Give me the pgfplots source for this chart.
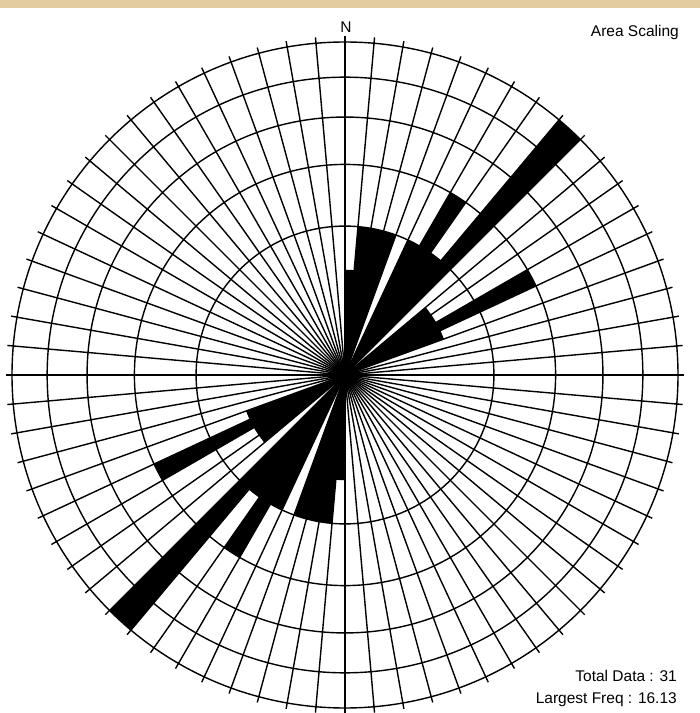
\documentclass[border=0pt]{standalone}
\usepackage{pgfplots}
\pgfplotsset{compat=1.18}
\usepackage{pgfplotstable}
\usepackage{fontspec}
\setmainfont{Liberation Sans}
\definecolor{parch}{RGB}{226,204,160}

% azimuth (deg, clockwise from N) and frequency (%) of each 5-degree petal edge
\pgfplotstableread{
az f
0 1.613
5 1.613
5 3.226
10 3.226
15 3.226
20 3.226
20 0
25 0
25 3.226
30 3.226
30 6.452
35 6.452
35 3.226
40 3.226
40 16.13
45 16.13
45 0
50 0
50 1.613
55 1.613
60 1.613
60 6.452
65 6.452
65 1.613
70 1.613
70 0
180 0
180 1.613
185 1.613
185 3.226
190 3.226
195 3.226
200 3.226
200 0
205 0
205 3.226
210 3.226
210 6.452
215 6.452
215 3.226
220 3.226
220 16.13
225 16.13
225 0
230 0
230 1.613
235 1.613
240 1.613
240 6.452
245 6.452
245 1.613
250 1.613
250 0
}\rosedata

\begin{document}
\begin{tikzpicture}
\begin{axis}[
  x=1pt, y=1pt,
  xmin=-345, xmax=355, ymin=-338, ymax=375,
  hide axis,
  clip=false,
]
\fill[white] (axis cs:-345,-338) rectangle (axis cs:355,375);
\fill[parch] (axis cs:-345,367) rectangle (axis cs:355,375);
\addplot[fill=black, draw=none, mark=none] table[
  x expr={333*sqrt(\thisrow{f}/16.13)*sin(\thisrow{az})},
  y expr={333*sqrt(\thisrow{f}/16.13)*cos(\thisrow{az})}] {\rosedata} -- cycle;
\fill[black] (axis cs:0,0) circle[radius=14];
\pgfplotsinvokeforeach{0,5,...,355}{
  \draw[line width=1.4pt] (axis cs:0,0) -- (axis cs:{339*sin(#1)},{339*cos(#1)});
}
\pgfplotsinvokeforeach{1,...,5}{
  \draw[line width=1.4pt] (axis cs:0,0) circle[radius={333*sqrt(#1/5)}];
}
\node[font=\fontsize{15.5}{18}\selectfont, anchor=base, inner sep=0pt] at (axis cs:1,342.7) {N};
\node[font=\fontsize{15.5}{18}\selectfont, anchor=base east, inner sep=0pt] at (axis cs:334,338) {Area Scaling};
\node[font=\fontsize{15.5}{18}\selectfont, anchor=base east, inner sep=0pt] at (axis cs:332,-306.7) {Total Data : 31};
\node[font=\fontsize{15.5}{18}\selectfont, anchor=base east, inner sep=0pt] at (axis cs:332,-328.3) {Largest Freq : 16.13};
\end{axis}
\pgfresetboundingbox
\path (current axis.south west) rectangle (current axis.north east);
\end{tikzpicture}
\end{document}
